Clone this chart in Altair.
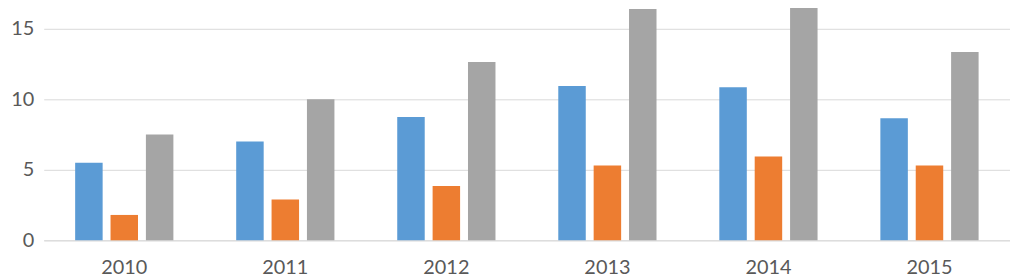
import altair as alt
import pandas as pd

years = ["2010", "2011", "2012", "2013", "2014", "2015"]
series_names = ["Series 1", "Series 2", "Series 3"]
series1 = [5.5, 7.0, 8.75, 10.95, 10.85, 8.65]
series2 = [1.8, 2.9, 3.85, 5.3, 5.95, 5.3]
series3 = [7.5, 10.0, 12.65, 16.4, 16.9, 13.35]
colors = ["#5B9BD5", "#ED7D31", "#A5A5A5"]
y_ticks = [0, 5, 10, 15]

rows = []
for name, vals in zip(series_names, [series1, series2, series3]):
    for yr, v in zip(years, vals):
        rows.append({"year": yr, "series": name, "value": v})
df = pd.DataFrame(rows)

FONT = "Lato"
TXT = "#595959"

chart = (
    alt.Chart(df)
    .mark_bar()
    .encode(
        x=alt.X(
            "year:N",
            sort=years,
            title=None,
            scale=alt.Scale(paddingInner=0.39, paddingOuter=0.195),
            axis=alt.Axis(
                labelAngle=0,
                ticks=False,
                tickSize=0,
                labelPadding=17,
                labelFont=FONT,
                labelFontSize=20,
                labelColor=TXT,
                domainColor="#D9D9D9",
                domainWidth=1,
                grid=False,
            ),
        ),
        xOffset=alt.XOffset(
            "series:N",
            sort=series_names,
            scale=alt.Scale(paddingInner=0.223, paddingOuter=0),
        ),
        y=alt.Y(
            "value:Q",
            title=None,
            scale=alt.Scale(domain=[0, 16.41], nice=False, zero=True),
            axis=alt.Axis(
                values=y_ticks,
                ticks=False,
                domain=False,
                labelPadding=10,
                labelFont=FONT,
                labelFontSize=20,
                labelColor=TXT,
                gridColor="#D9D9D9",
                gridWidth=1,
            ),
        ),
        color=alt.Color(
            "series:N",
            sort=series_names,
            scale=alt.Scale(domain=series_names, range=colors),
            legend=None,
        ),
    )
    .properties(
        width=973,
        height=233,
        autosize=alt.AutoSizeParams(type="none"),
        padding={"left": 36, "top": 0, "right": 0, "bottom": 38},
        background="white",
    )
    .configure_view(stroke=None)
)

chart.save("out.html", embed_options={"renderer": "svg", "actions": False})
